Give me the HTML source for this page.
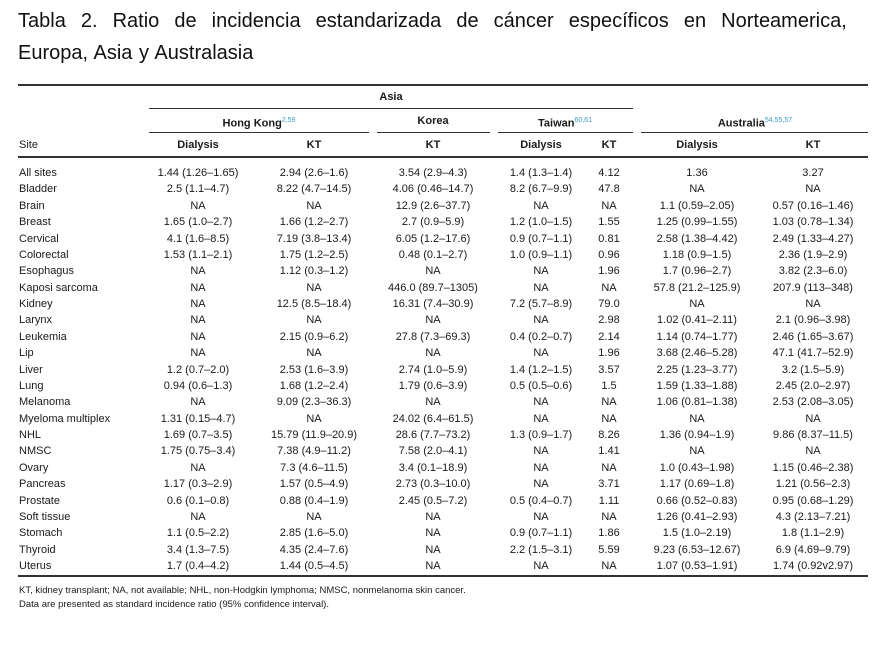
<!DOCTYPE html>
<html><head><meta charset="utf-8">
<style>
body{margin:0;width:896px;height:646px;background:#fff;position:relative;overflow:hidden;font-family:"Liberation Sans",sans-serif;color:#1a1a1a}
.t{position:absolute;white-space:nowrap;font-size:11px;line-height:14px}
.c{transform:translateX(-50%)}
.b{font-weight:bold}
.rule{position:absolute;background:#333}
.title{position:absolute;left:18px;font-size:20px;color:#111;white-space:nowrap}
sup{color:#3a9bc8;font-size:7px;font-weight:normal}
</style></head><body>
<div class="title" style="top:10px;word-spacing:9.5px">Tabla 2. Ratio de incidencia estandarizada de cáncer específicos en Norteamerica,</div>
<div class="title" style="top:42px;word-spacing:1px">Europa, Asia y Australasia</div>

<div class="rule" style="left:18px;top:84px;width:850px;height:2px"></div>
<div class="rule" style="left:149px;top:108px;width:484px;height:1px"></div>
<div class="rule" style="left:149px;top:132px;width:220px;height:1px"></div>
<div class="rule" style="left:377px;top:132px;width:113px;height:1px"></div>
<div class="rule" style="left:498px;top:132px;width:135px;height:1px"></div>
<div class="rule" style="left:641px;top:132px;width:227px;height:1px"></div>
<div class="rule" style="left:18px;top:156px;width:850px;height:2px"></div>
<div class="rule" style="left:18px;top:575px;width:850px;height:2px"></div>

<div class="t b c" style="left:391px;top:90px">Asia</div>
<div class="t b c" style="left:259px;top:114px">Hong Kong<sup>2,59</sup></div>
<div class="t b c" style="left:433px;top:114px">Korea</div>
<div class="t b c" style="left:565px;top:114px">Taiwan<sup>60,61</sup></div>
<div class="t b c" style="left:755px;top:114px">Australia<sup>54,55,57</sup></div>
<div class="t" style="left:19px;top:138px">Site</div>
<div class="t b c" style="left:198px;top:138px">Dialysis</div>
<div class="t b c" style="left:314px;top:138px">KT</div>
<div class="t b c" style="left:433px;top:138px">KT</div>
<div class="t b c" style="left:541px;top:138px">Dialysis</div>
<div class="t b c" style="left:609px;top:138px">KT</div>
<div class="t b c" style="left:697px;top:138px">Dialysis</div>
<div class="t b c" style="left:813px;top:138px">KT</div>

<div id="rows"></div>

<div class="t" style="left:19px;top:584px;font-size:9.5px">KT, kidney transplant; NA, not available; NHL, non-Hodgkin lymphoma; NMSC, nonmelanoma skin cancer.</div>
<div class="t" style="left:19px;top:598px;font-size:9.5px">Data are presented as standard incidence ratio (95% confidence interval).</div>

<script>
const sites=["All sites","Bladder","Brain","Breast","Cervical","Colorectal","Esophagus","Kaposi sarcoma","Kidney","Larynx","Leukemia","Lip","Liver","Lung","Melanoma","Myeloma multiplex","NHL","NMSC","Ovary","Pancreas","Prostate","Soft tissue","Stomach","Thyroid","Uterus"];
const hkDialysis=["1.44 (1.26–1.65)","2.5 (1.1–4.7)","NA","1.65 (1.0–2.7)","4.1 (1.6–8.5)","1.53 (1.1–2.1)","NA","NA","NA","NA","NA","NA","1.2 (0.7–2.0)","0.94 (0.6–1.3)","NA","1.31 (0.15–4.7)","1.69 (0.7–3.5)","1.75 (0.75–3.4)","NA","1.17 (0.3–2.9)","0.6 (0.1–0.8)","NA","1.1 (0.5–2.2)","3.4 (1.3–7.5)","1.7 (0.4–4.2)"];
const hkKT=["2.94 (2.6–1.6)","8.22 (4.7–14.5)","NA","1.66 (1.2–2.7)","7.19 (3.8–13.4)","1.75 (1.2–2.5)","1.12 (0.3–1.2)","NA","12.5 (8.5–18.4)","NA","2.15 (0.9–6.2)","NA","2.53 (1.6–3.9)","1.68 (1.2–2.4)","9.09 (2.3–36.3)","NA","15.79 (11.9–20.9)","7.38 (4.9–11.2)","7.3 (4.6–11.5)","1.57 (0.5–4.9)","0.88 (0.4–1.9)","NA","2.85 (1.6–5.0)","4.35 (2.4–7.6)","1.44 (0.5–4.5)"];
const koreaKT=["3.54 (2.9–4.3)","4.06 (0.46–14.7)","12.9 (2.6–37.7)","2.7 (0.9–5.9)","6.05 (1.2–17.6)","0.48 (0.1–2.7)","NA","446.0 (89.7–1305)","16.31 (7.4–30.9)","NA","27.8 (7.3–69.3)","NA","2.74 (1.0–5.9)","1.79 (0.6–3.9)","NA","24.02 (6.4–61.5)","28.6 (7.7–73.2)","7.58 (2.0–4.1)","3.4 (0.1–18.9)","2.73 (0.3–10.0)","2.45 (0.5–7.2)","NA","NA","NA","NA"];
const twDialysis=["1.4 (1.3–1.4)","8.2 (6.7–9.9)","NA","1.2 (1.0–1.5)","0.9 (0.7–1.1)","1.0 (0.9–1.1)","NA","NA","7.2 (5.7–8.9)","NA","0.4 (0.2–0.7)","NA","1.4 (1.2–1.5)","0.5 (0.5–0.6)","NA","NA","1.3 (0.9–1.7)","NA","NA","NA","0.5 (0.4–0.7)","NA","0.9 (0.7–1.1)","2.2 (1.5–3.1)","NA"];
const twKT=["4.12","47.8","NA","1.55","0.81","0.96","1.96","NA","79.0","2.98","2.14","1.96","3.57","1.5","NA","NA","8.26","1.41","NA","3.71","1.11","NA","1.86","5.59","NA"];
const auDialysis=["1.36","NA","1.1 (0.59–2.05)","1.25 (0.99–1.55)","2.58 (1.38–4.42)","1.18 (0.9–1.5)","1.7 (0.96–2.7)","57.8 (21.2–125.9)","NA","1.02 (0.41–2.11)","1.14 (0.74–1.77)","3.68 (2.46–5.28)","2.25 (1.23–3.77)","1.59 (1.33–1.88)","1.06 (0.81–1.38)","NA","1.36 (0.94–1.9)","NA","1.0 (0.43–1.98)","1.17 (0.69–1.8)","0.66 (0.52–0.83)","1.26 (0.41–2.93)","1.5 (1.0–2.19)","9.23 (6.53–12.67)","1.07 (0.53–1.91)"];
const auKT=["3.27","NA","0.57 (0.16–1.46)","1.03 (0.78–1.34)","2.49 (1.33–4.27)","2.36 (1.9–2.9)","3.82 (2.3–6.0)","207.9 (113–348)","NA","2.1 (0.96–3.98)","2.46 (1.65–3.67)","47.1 (41.7–52.9)","3.2 (1.5–5.9)","2.45 (2.0–2.97)","2.53 (2.08–3.05)","NA","9.86 (8.37–11.5)","NA","1.15 (0.46–2.38)","1.21 (0.56–2.3)","0.95 (0.68–1.29)","4.3 (2.13–7.21)","1.8 (1.1–2.9)","6.9 (4.69–9.79)","1.74 (0.92v2.97)"];
const cols=[[hkDialysis,198],[hkKT,314],[koreaKT,433],[twDialysis,541],[twKT,609],[auDialysis,697],[auKT,813]];
const root=document.getElementById('rows');
const y0=166, dy=16.375;
sites.forEach((s,i)=>{
  const y=y0+i*dy;
  const d=document.createElement('div');
  d.className='t';d.style.left='19px';d.style.top=y+'px';d.textContent=s;
  
  
  root.appendChild(d);
  cols.forEach(c=>{
    const e=document.createElement('div');
    e.className='t c';e.style.left=c[1]+'px';e.style.top=y+'px';e.textContent=c[0][i];
    
    
    root.appendChild(e);
  });
});
</script>
</body></html>
